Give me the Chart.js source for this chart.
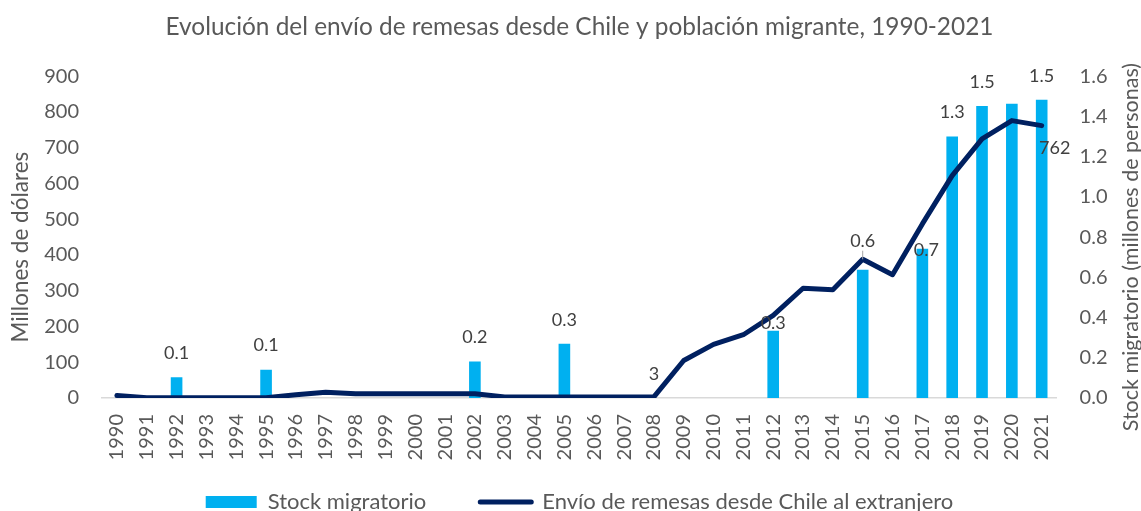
<!DOCTYPE html>
<html>
<head>
<meta charset="utf-8">
<title>Remesas y población migrante</title>
<script src="https://cdn.jsdelivr.net/npm/chart.js@4.4.1/dist/chart.umd.min.js"></script>
<style>
  html, body { margin: 0; padding: 0; background: #fff; overflow: hidden; }
  #wrap { position: relative; width: 1141px; height: 550px; }
</style>
</head>
<body>
<div id="wrap"><canvas id="chart"></canvas></div>
<script>
// Datos
const years = ['1990','1991','1992','1993','1994','1995','1996','1997','1998','1999','2000',
  '2001','2002','2003','2004','2005','2006','2007','2008','2009','2010','2011','2012',
  '2013','2014','2015','2016','2017','2018','2019','2020','2021'];

// Envío de remesas (millones de dólares)
const remesas = [7, 1, 1, 1, 1, 1, 9, 16, 12, 12, 12, 12, 12, 3, 3, 3, 3, 3, 3,
  105, 150, 177, 231, 307, 303, 388, 345, 487, 622, 725, 776, 762];

// Stock migratorio (millones de personas)
const stock = [null, null, 0.103, null, null, 0.141, null, null, null, null, null,
  null, 0.182, null, null, 0.27, null, null, null, null, null, null, 0.335,
  null, null, 0.638, null, 0.742, 1.30, 1.452, 1.463, 1.483];

const leftTicks = { min: 0, max: 900, step: 100 };
const rightTicks = { min: 0, max: 1.6, step: 0.2 };

const stockLabelSkip = ['2020'];
const lineLabelYears = ['2008', '2021'];

const BAR_COLOR = '#00B0F0';
const LINE_COLOR = '#002060';
const TEXT = '#595959';
const FONT = 'Lato';

// etiquetas de datos (algunas desplazadas a mano como en el original)
const barNudge = { '2012': { dx: 0, dy: -7 }, '2015': { dx: 0, dy: -29 }, '2017': { dx: 4, dy: 1 } };
const lineNudge = { '2008': { dx: 0, dy: -23 }, '2021': { dx: 13, dy: 23 } };

const valueLabels = {
  id: 'valueLabels',
  afterDatasetsDraw(chart) {
    const { ctx } = chart;
    const bars = chart.getDatasetMeta(0).data;
    const pts = chart.getDatasetMeta(1).data;
    ctx.save();
    ctx.font = `18px ${FONT}`;
    ctx.fillStyle = '#404040';
    ctx.textAlign = 'center';
    ctx.textBaseline = 'middle';
    bars.forEach((el, i) => {
      const v = stock[i];
      if (v == null || stockLabelSkip.includes(years[i])) return;
      const n = barNudge[years[i]] || { dx: 0, dy: -24 };
      const lx = el.x + n.dx, ly = el.y + n.dy;
      ctx.fillText(v.toFixed(1), lx, ly);
      if (years[i] === '2015') {
        // línea guía hasta la serie de remesas
        ctx.save();
        ctx.strokeStyle = '#a6a6a6';
        ctx.lineWidth = 1;
        ctx.beginPath();
        ctx.moveTo(lx, ly + 10);
        ctx.lineTo(lx, pts[i].y);
        ctx.stroke();
        ctx.restore();
      }
    });
    pts.forEach((el, i) => {
      if (!lineLabelYears.includes(years[i])) return;
      const n = lineNudge[years[i]];
      ctx.fillText(String(remesas[i]), el.x + n.dx, el.y + n.dy);
    });
    ctx.restore();
  }
};

// títulos de ejes (el derecho se lee de abajo hacia arriba)
const axisTitles = {
  id: 'axisTitles',
  afterDraw(chart) {
    const { ctx, chartArea } = chart;
    const midY = (chartArea.top + chartArea.bottom) / 2 + 10;
    ctx.save();
    ctx.fillStyle = TEXT;
    ctx.textAlign = 'center';
    ctx.textBaseline = 'middle';
    [[21, 'Millones de dólares', 22.5], [chart.width - 10, 'Stock migratorio (millones de personas)', 21.5]].forEach(([x, t, size]) => {
      ctx.save();
      ctx.font = `${size}px ${FONT}`;
      ctx.translate(x, midY);
      ctx.rotate(-Math.PI / 2);
      ctx.fillText(t, 0, 0);
      ctx.restore();
    });
    ctx.restore();
  }
};

// la leyenda queda más cerca del eje que lo que deja su padding
const legendShift = {
  id: 'legendShift',
  afterLayout(chart) {
    const lg = chart.legend;
    if (!lg) return;
    lg.top -= 27;
    lg.bottom -= 27;
  }
};

const ctx = document.getElementById('chart');
new Chart(ctx, {
  data: {
    labels: years,
    datasets: [
      {
        type: 'bar',
        label: 'Stock migratorio',
        data: stock,
        yAxisID: 'y1',
        backgroundColor: BAR_COLOR,
        barPercentage: 0.39,
        categoryPercentage: 1,
        order: 2
      },
      {
        type: 'line',
        label: 'Envío de remesas desde Chile al extranjero',
        data: remesas,
        yAxisID: 'y',
        borderColor: LINE_COLOR,
        backgroundColor: LINE_COLOR,
        borderWidth: 5,
        pointRadius: 0,
        tension: 0,
        borderCapStyle: 'round',
        borderJoinStyle: 'round',
        order: 1
      }
    ]
  },
  options: {
    responsive: true,
    maintainAspectRatio: false,
    animation: false,
    layout: { padding: { left: 18, right: 0, top: 0, bottom: 0 } },
    plugins: {
      title: {
        display: true,
        text: 'Evolución del envío de remesas desde Chile y población migrante, 1990-2021',
        color: TEXT,
        font: { family: FONT, size: 24.4, weight: 'normal' },
        padding: { top: 13, bottom: 34 }
      },
      legend: {
        position: 'bottom',
        labels: {
          color: TEXT,
          font: { family: FONT, size: 22 },
          usePointStyle: true,
          pointStyleWidth: 51,
          boxHeight: 12,
          padding: 54,
          generateLabels: (chart) => chart.data.datasets.map((ds, i) => ({
            text: ds.label,
            datasetIndex: i,
            fillStyle: ds.type === 'bar' ? BAR_COLOR : LINE_COLOR,
            strokeStyle: ds.type === 'bar' ? BAR_COLOR : LINE_COLOR,
            lineWidth: ds.type === 'bar' ? 0 : 5,
            lineCap: 'round',
            pointStyle: ds.type === 'bar' ? 'rect' : 'line',
            fontColor: TEXT,
            hidden: false
          }))
        }
      },
      tooltip: { enabled: false }
    },
    scales: {
      x: {
        offset: true,
        grid: { display: false, drawTicks: false },
        border: { display: true, color: '#d9d9d9', width: 1.5 },
        ticks: {
          autoSkip: false,
          minRotation: 90,
          maxRotation: 90,
          padding: 16,
          color: TEXT,
          font: { family: FONT, size: 20 }
        },
        afterFit: (s) => { s.height = 66; }
      },
      y: {
        position: 'left',
        min: leftTicks.min,
        max: leftTicks.max,
        grid: { display: false, drawTicks: false },
        border: { display: false },
        ticks: { stepSize: leftTicks.step, padding: 23, color: TEXT, font: { family: FONT, size: 20 } },
        afterFit: (s) => { s.width = 84; }
      },
      y1: {
        position: 'right',
        min: rightTicks.min,
        max: rightTicks.max,
        grid: { display: false, drawTicks: false },
        border: { display: false },
        ticks: {
          stepSize: rightTicks.step,
          padding: 23,
          color: TEXT,
          font: { family: FONT, size: 20 },
          callback: (v) => Number(v).toFixed(1)
        },
        afterFit: (s) => { s.width = 84.4; }
      }
    }
  },
  plugins: [valueLabels, axisTitles, legendShift]
});
</script>
</body>
</html>
